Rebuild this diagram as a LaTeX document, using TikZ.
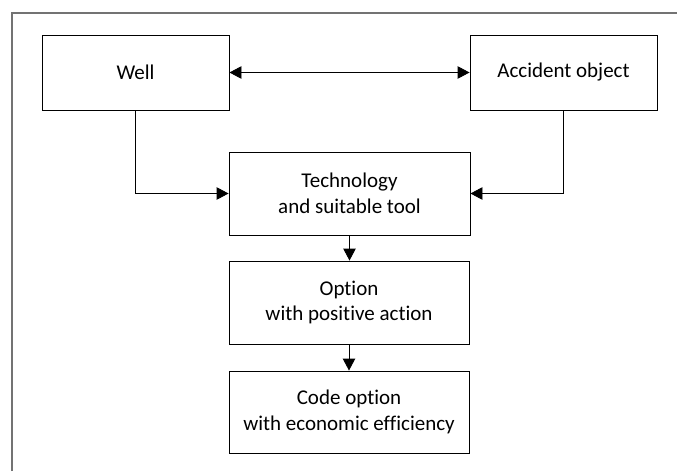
\documentclass[tikz,border=0pt]{standalone}
\usepackage{fontspec}
\setmainfont[RawFeature={-liga;-dlig;-clig}]{Carlito}
\usetikzlibrary{arrows.meta}
\begin{document}
\begin{tikzpicture}[x=1pt,y=-1pt,
  box/.style={draw=black,line width=0.9pt,fill=white,align=center,inner sep=0pt,
    font=\fontsize{21}{25.6}\selectfont},
  tip/.tip={Triangle[length=12pt,width=12.5pt]},
  conn/.style={line width=0.9pt,-tip},
  frame/.style={draw=black!55,line width=1.6pt}]
\useasboundingbox (0,0) rectangle (677,471);
\draw[frame] (12,471) -- (12,13) -- (677,13);
\node[box,minimum width=187pt,minimum height=75pt] (well) at (135.5,72.5) {Well};
\node[box,minimum width=187pt,minimum height=75pt] (acc) at (563.5,72.5) {Accident object};
\node[box,minimum width=241pt,minimum height=83pt] (tech) at (349.5,193.5) {Technology\\and suitable tool};
\node[box,minimum width=240pt,minimum height=83pt] (opt) at (349,302.5) {Option\\with positive action};
\node[box,minimum width=240pt,minimum height=82pt] (code) at (349,412) {Code option\\with economic efficiency};
\draw[conn,tip-tip] (well.east) -- (acc.west);
\draw[conn] (well.south) |- (tech.west);
\draw[conn] (acc.south) |- (tech.east);
\draw[conn] (tech.south) -- (tech.south |- opt.north);
\draw[conn] (opt.south) -- (opt.south |- code.north);
\end{tikzpicture}
\end{document}
